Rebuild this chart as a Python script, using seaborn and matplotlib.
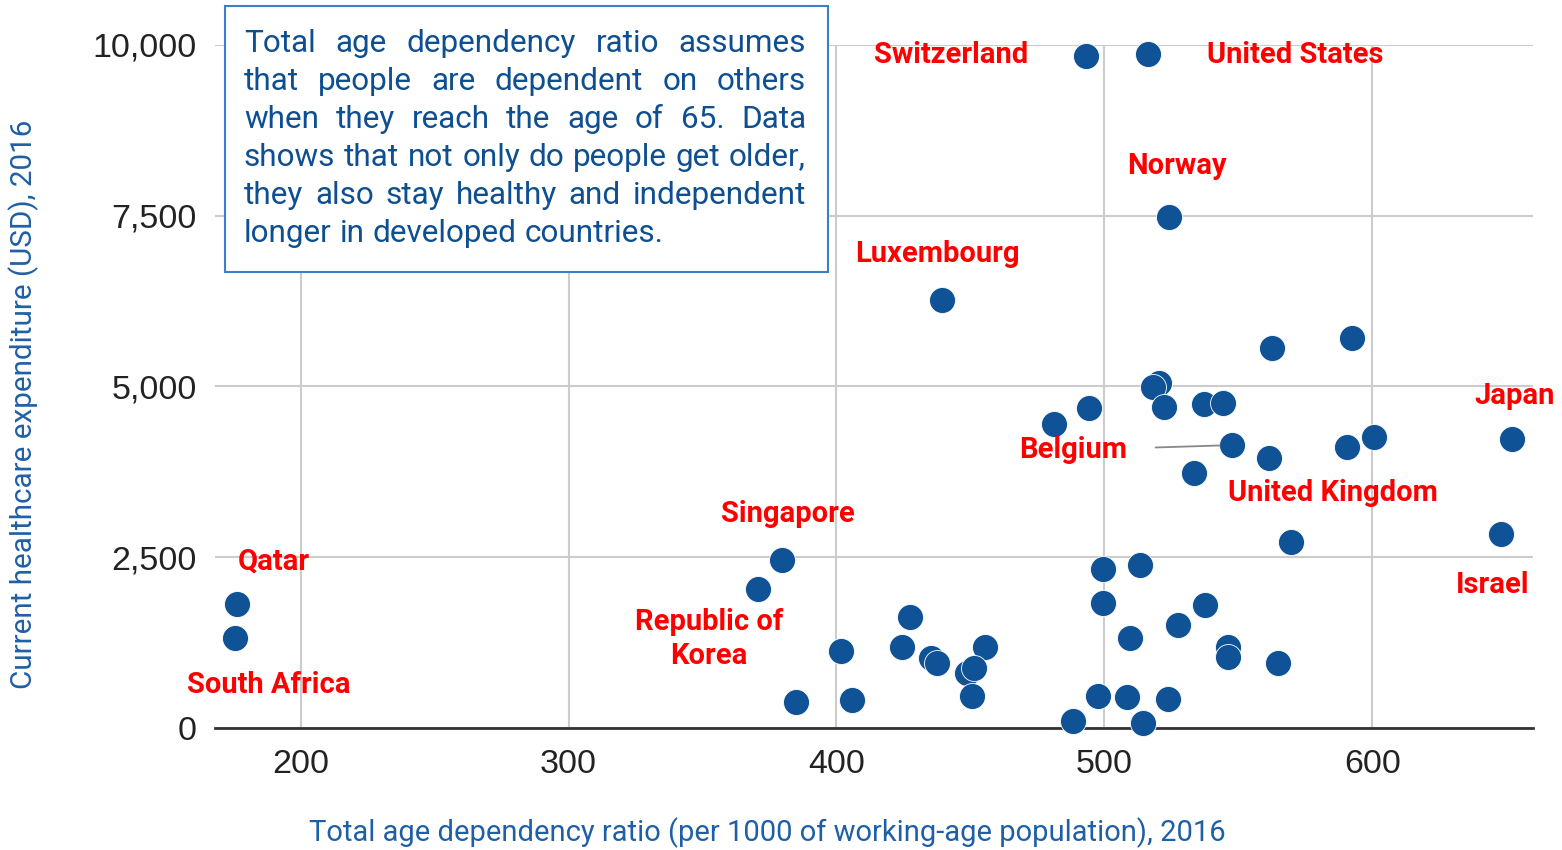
import matplotlib
matplotlib.use("Agg")
import matplotlib.pyplot as plt
from matplotlib.patches import Rectangle
import seaborn as sns
import pandas as pd

# Total age dependency ratio (per 1000 working-age) vs. health spending per capita (USD), 2016
dependency_ratio = [
    176.1, 175.4, 493.3, 516.4, 524.3, 439.2, 592.6, 562.6, 520.3, 518.0,
    522.4, 494.4, 481.3, 537.3, 544.4, 547.5, 561.6, 533.6, 590.5, 600.5,
    652.2, 648.1, 569.7, 379.6, 370.6, 499.6, 513.4, 499.6, 537.6, 427.5,
    527.3, 509.6, 401.8, 424.5, 455.6, 435.3, 437.4, 448.6, 451.5, 546.3,
    546.3, 564.7, 384.7, 405.7, 450.6, 497.5, 508.5, 523.6, 488.4, 514.6,
]
health_expenditure = [
    1815, 1317, 9836, 9865, 7480, 6265, 5704, 5558, 5054, 4996,
    4703, 4679, 4450, 4738, 4753, 4142, 3948, 3737, 4109, 4255,
    4230, 2840, 2730, 2459, 2035, 2323, 2386, 1825, 1800, 1629,
    1508, 1313, 1131, 1181, 1190, 1020, 956, 809, 874, 1190,
    1035, 947, 385, 410, 468, 468, 458, 424, 107, 78,
]
country = [
    "Qatar", "South Africa", "Switzerland", "United States", "Norway", "Luxembourg",
    "", "", "", "", "", "", "", "", "", "Belgium", "United Kingdom", "", "", "",
    "Japan", "Israel", "", "Singapore", "Republic of\nKorea",
] + [""] * 25

x_ticks = [200, 300, 400, 500, 600]
y_ticks = [0, 2500, 5000, 7500, 10000]
y_tick_labels = ["0", "2,500", "5,000", "7,500", "10,000"]

x_title = "Total age dependency ratio (per 1000 of working-age population), 2016"
y_title = "Current healthcare expenditure (USD), 2016"
note_lines = [
    "Total age dependency ratio assumes",
    "that people are dependent on others",
    "when they reach the age of 65. Data",
    "shows that not only do people get older,",
    "they also stay healthy and independent",
    "longer in developed countries.",
]

# label placement: (ha, dx, dy) in pixels from the point
label_style = {
    "Switzerland": ("right", -58, 1),
    "United States": ("left", 59, -1),
    "Norway": ("center", 7, 51),
    "Luxembourg": ("center", -4, 46),
    "Japan": ("center", 2, 43),
    "Belgium": ("right", -105, -5),
    "United Kingdom": ("center", 64, -35),
    "Israel": ("center", -8, -51),
    "Singapore": ("center", 6, 46),
    "Republic of\nKorea": ("center", -49, -50),
    "Qatar": ("center", 37, 43),
    "South Africa": ("center", 34, -47),
}

df = pd.DataFrame({"ratio": dependency_ratio, "spend": health_expenditure, "country": country})

W_PX, H_PX = 1562, 850
DOT = "#0F5296"
RED = "#FF0000"
NOTE_BLUE = "#0E4F92"
TITLE_BLUE = "#1F5FA6"
NOTE_SIZE = 22.7

sns.set_style("white")
plt.rcParams["font.family"] = ["Roboto", "DejaVu Sans"]

fig = plt.figure(figsize=(W_PX / 100, H_PX / 100), dpi=100)
ax = fig.add_axes([215 / W_PX, 1 - 728 / H_PX, (1533 - 215) / W_PX, (728 - 45) / H_PX])

sns.scatterplot(data=df, x="ratio", y="spend", ax=ax, s=350, color=DOT,
                edgecolor="white", linewidth=0.6, zorder=3, clip_on=False, legend=False)

ax.set_xlim(168, 660)
ax.set_ylim(0, 10000)
ax.set_xticks(x_ticks)
ax.set_xticklabels([str(t) for t in x_ticks], family="Liberation Sans")
ax.set_yticks(y_ticks)
ax.set_yticklabels(y_tick_labels, family="Liberation Sans")
ax.grid(True, color="#CCCCCC", linewidth=1.5, zorder=0)
ax.set_axisbelow(True)
for side in ["top", "right", "left"]:
    ax.spines[side].set_visible(False)
ax.spines["bottom"].set_color("#333333")
ax.spines["bottom"].set_linewidth(2)
ax.tick_params(axis="y", length=8.6, width=1.5, color="#CCCCCC", pad=4.3,
               labelsize=24.5, labelcolor="#222222")
ax.tick_params(axis="x", length=0, pad=15, labelsize=24.5, labelcolor="#222222")
ax.yaxis.get_major_ticks()[0].tick1line.set_color("#333333")
ax.set_xlabel("")
ax.set_ylabel("")

fig.text(767 / W_PX, 1 - 833 / H_PX, x_title, ha="center", va="center",
         fontsize=21, color=TITLE_BLUE)
fig.text(24 / W_PX, 1 - 404 / H_PX, y_title, ha="center", va="center",
         rotation=90, fontsize=21.3, color=TITLE_BLUE)

# country labels
for _, row in df[df["country"] != ""].iterrows():
    ha, dx, dy = label_style[row["country"]]
    kw = {}
    if row["country"] == "Belgium":
        kw["arrowprops"] = dict(arrowstyle="-", color="#888888", lw=1.3,
                                shrinkA=18.5, shrinkB=8.5)
    ax.annotate(row["country"], (row["ratio"], row["spend"]), xytext=(dx, dy),
                textcoords="offset pixels", ha=ha, va="center", fontsize=21,
                fontweight="bold", color=RED, linespacing=1.25, zorder=4,
                annotation_clip=False, **kw)

# note box with justified text
fig.patches.append(Rectangle((225 / W_PX, 1 - 272 / H_PX), (828 - 225) / W_PX,
                             (272 - 6) / H_PX, transform=fig.transFigure,
                             facecolor="white", edgecolor="#3F7EC6", linewidth=1.5,
                             zorder=5))
fig.canvas.draw()
renderer = fig.canvas.get_renderer()
left_px, right_px = 244, 806
probe = fig.text(0, 0, "a a", fontsize=NOTE_SIZE)
p1 = fig.text(0, 0, "aa", fontsize=NOTE_SIZE)
space_w = probe.get_window_extent(renderer).width - p1.get_window_extent(renderer).width
probe.remove()
p1.remove()
for i, line in enumerate(note_lines):
    y = 1 - (43 + 38 * i) / H_PX
    words = line.split(" ")
    texts = [fig.text(0, y, w, ha="left", va="center", fontsize=NOTE_SIZE,
                      color=NOTE_BLUE, zorder=6) for w in words]
    widths = [t.get_window_extent(renderer).width for t in texts]
    if i == len(note_lines) - 1:
        gap = space_w
    else:
        gap = (right_px - left_px - sum(widths)) / (len(words) - 1)
    x = left_px
    for t, w in zip(texts, widths):
        t.set_x(x / W_PX)
        x += w + gap

fig.savefig("out.png", dpi=100)
